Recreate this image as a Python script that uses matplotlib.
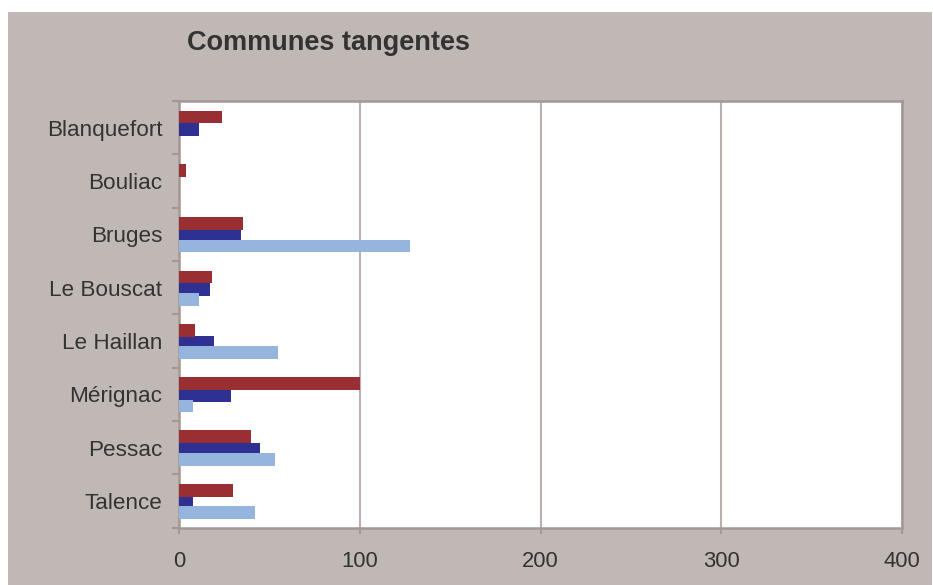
import matplotlib.pyplot as plt
import numpy as np

plt.rcParams['font.family'] = ['Liberation Sans', 'DejaVu Sans']

# Data
communes = ['Blanquefort', 'Bouliac', 'Bruges', 'Le Bouscat', 'Le Haillan',
            'Mérignac', 'Pessac', 'Talence']
serie_rouge = [24, 4, 35.5, 18.5, 9, 100, 40, 30]
serie_bleue = [11, 0, 34.5, 17, 19.5, 28.5, 45, 8]
serie_claire = [0, 0, 128, 11, 55, 8, 53, 42]

bg = '#c0b8b5'
spine_col = '#a39896'
grid_col = '#b9b1ae'
text_col = '#333333'

fig = plt.figure(figsize=(9.33, 5.85), dpi=100)
fig.patch.set_facecolor('white')

# grey frame behind the chart
bg_ax = fig.add_axes([8 / 933, 0, 924 / 933, 573 / 585], zorder=0)
bg_ax.set_facecolor(bg)
bg_ax.set_xticks([])
bg_ax.set_yticks([])
for s in bg_ax.spines.values():
    s.set_visible(False)

ax = fig.add_axes([179 / 933, 1 - 527.5 / 585, 723 / 933, 426.5 / 585], zorder=1)
ax.set_facecolor('white')

y = np.arange(len(communes))
h = 0.24
ax.barh(y - 0.2, serie_rouge, height=h, color='#992e33', zorder=4)
ax.barh(y + 0.03, serie_bleue, height=h, color='#2e3192', zorder=3)
ax.barh(y + 0.22, serie_claire, height=h, color='#95b4de', zorder=5)

ax.set_xlim(0, 400)
ax.set_ylim(len(communes) - 0.5, -0.5)
ax.set_xticks([0, 100, 200, 300, 400])
ax.set_yticks(y)
ax.set_yticklabels(communes)
ax.set_yticks(np.arange(len(communes) + 1) - 0.5, minor=True)

ax.grid(axis='x', color=grid_col, linewidth=1.5, zorder=1)
ax.set_axisbelow(True)

for s in ax.spines.values():
    s.set_color(spine_col)
    s.set_linewidth(1.8)

ax.tick_params(axis='x', length=4, width=1.5, color=spine_col, pad=13,
               labelsize=15.8, labelcolor=text_col)
ax.tick_params(axis='y', which='major', length=0, pad=12,
               labelsize=16.2, labelcolor=text_col)
ax.tick_params(axis='y', which='minor', length=5, width=1.5, color=spine_col)

fig.text(187 / 933, 1 - 43 / 585, 'Communes tangentes', fontsize=19.5,
         fontweight='bold', color=text_col, va='center', ha='left')

fig.savefig('out.png', dpi=100, facecolor=fig.get_facecolor())
